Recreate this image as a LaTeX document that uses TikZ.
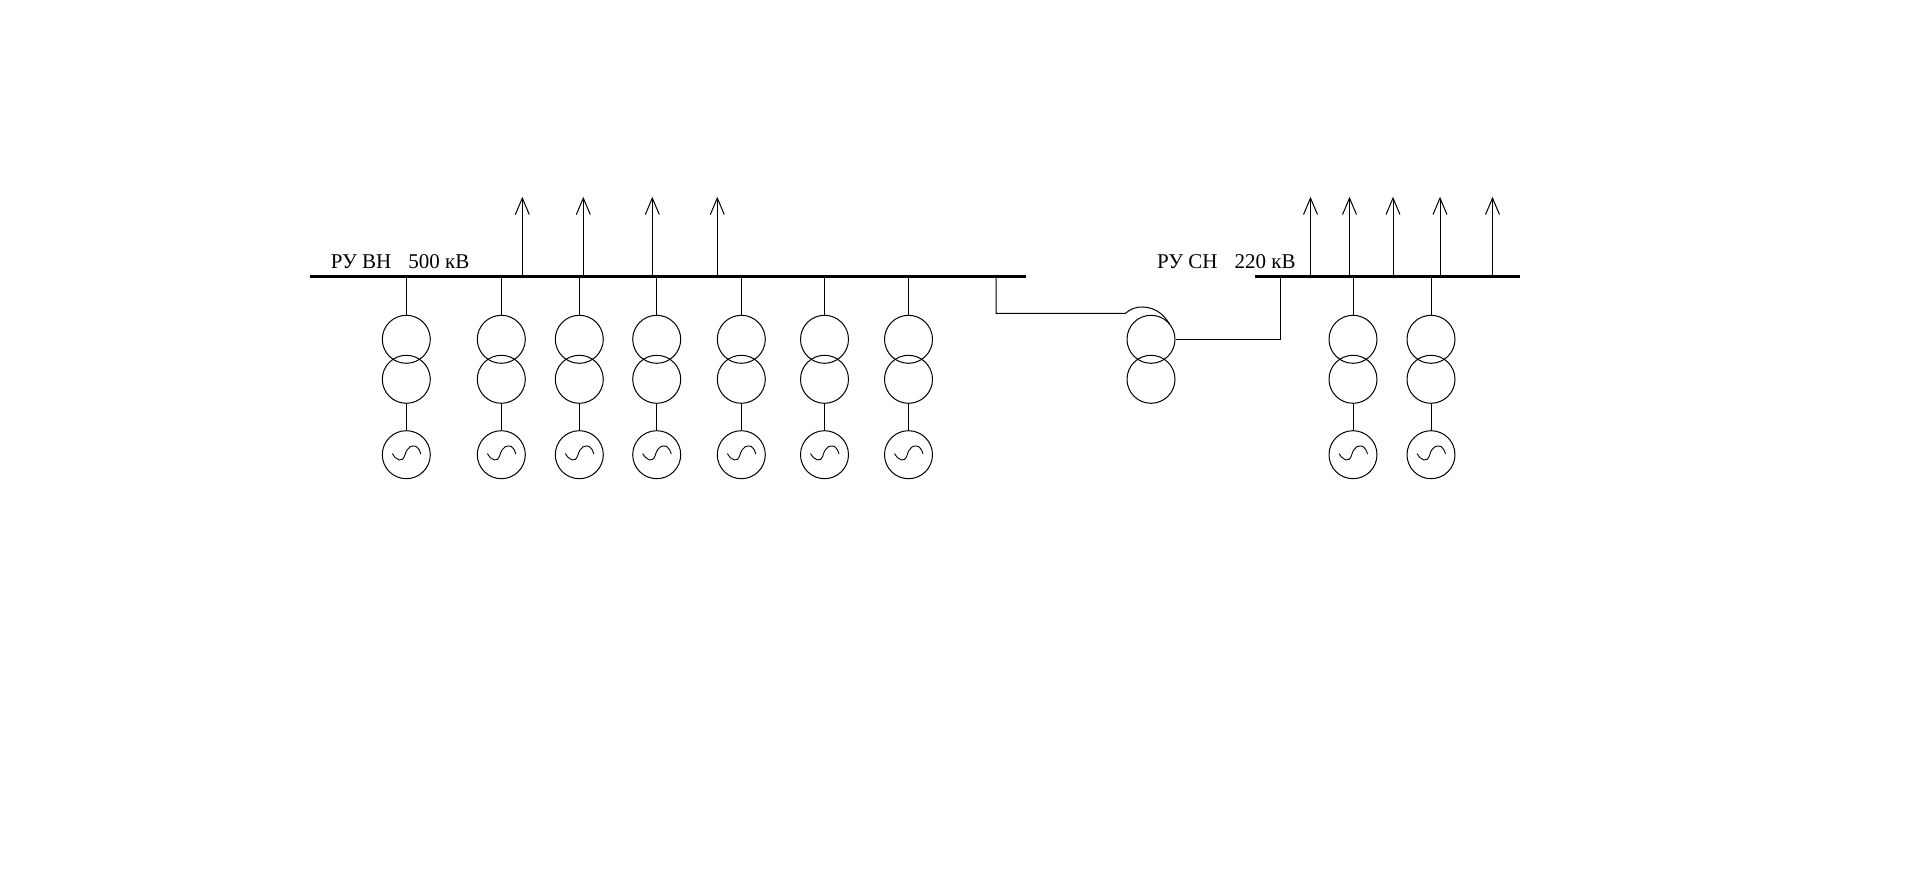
\documentclass[tikz,border=0pt]{standalone}
\usepackage{fontspec}
\setmainfont{Liberation Serif}
\usetikzlibrary{arrows.meta}
\tikzset{
  x=1pt,y=-1pt,
  wire/.style={line width=1pt,black},
  busbar/.style={line width=3.3pt,black},
  coil/.style={circle,draw=black,line width=1pt,minimum size=48pt,inner sep=0pt},
  feeder/.style={wire,-{Straight Barb[length=16.5pt,width=14pt,line width=1pt]}},
  lab/.style={anchor=base west,inner sep=0pt,font=\fontsize{21}{25}\selectfont}
}
\begin{document}
\begin{tikzpicture}
\useasboundingbox (0,0) rectangle (1907,877);
\fill[white] (0,0) rectangle (1907,877);
% busbars
\coordinate (hvL) at (310,276.3);
\coordinate (hvR) at (1026,276.3);
\coordinate (mvL) at (1255,276.3);
\coordinate (mvR) at (1520,276.3);
\draw[busbar] (hvL) -- (hvR);
\draw[busbar] (mvL) -- (mvR);
% labels
\node[lab] (hvlabel) at (330.7,269) {РУ ВН\hspace{17pt}500 кВ};
\node[lab] (mvlabel) at (1157,269) {РУ СН\hspace{17pt}220 кВ};
% generator units
\foreach \i/\x in {1/406.3,2/501.3,3/579.3,4/656.7,5/741.3,6/824.5,7/908.5,8/1353,9/1431}{
  \node[coil] (ta\i) at (\x,339.3) {};
  \node[coil] (tb\i) at (\x,379.3) {};
  \node[coil] (g\i) at (\x,454.7) {};
  \coordinate (tap\i) at (\x,276.3);
  \draw[wire] (tap\i) -- (ta\i.north);
  \draw[wire] (tb\i.south) -- (g\i.north);
  \draw[line width=0.9pt] (\x-14,453.5) .. controls (\x-10,460.5) and (\x-4,463) .. (\x-1.5,455.5)
     .. controls (\x+1,446) and (\x+6,445) .. (\x+10,446.5)
     .. controls (\x+12,447.5) and (\x+13.5,450.5) .. (\x+14.5,454);
}
% feeders
\foreach \i/\x in {1/522.3,2/583.3,3/652.3,4/717.3,5/1310.5,6/1349.5,7/1393,8/1440,9/1492.5}{
  \coordinate (fb\i) at (\x,276.3);
  \coordinate (ft\i) at (\x,196.8);
  \draw[feeder] (fb\i) -- (ft\i);
}
% autotransformer
\node[coil] (at1) at (1151,339.3) {};
\node[coil] (at2) at (1151,379.3) {};
\coordinate (hvt) at (996,276.3);
\coordinate (hvk) at (996,313.3);
\coordinate (hve) at (1125.5,313.3);
\coordinate (mvt) at (1280.5,276.3);
\coordinate (mvk) at (1280.5,339.3);
\coordinate (arcend) at (1169.5,324);
\draw[wire] (hvt) -- (hvk) -- (hve)
  .. controls (1130,309) and (1137,306.5) .. (1143,307)
  .. controls (1154,307.5) and (1163,313) .. (arcend);
\draw[wire] (at1.east) -- (mvk) -- (mvt);
\end{tikzpicture}
\end{document}
